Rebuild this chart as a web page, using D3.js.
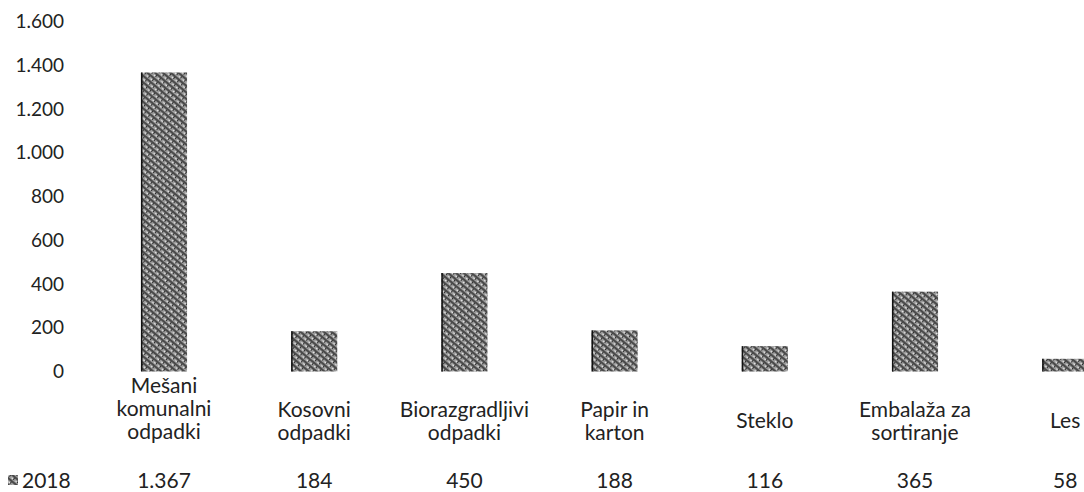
<!DOCTYPE html>
<html>
<head>
<meta charset="utf-8">
<script src="https://cdn.jsdelivr.net/npm/d3@7"></script>
<style>
  html, body { margin: 0; padding: 0; background: #fff; }
  svg { display: block; }
  text { font-family: Lato, "Open Sans", sans-serif; fill: #222; }
</style>
</head>
<body>
<svg id="chart" width="1084" height="492"></svg>
<script>
const categories = [
  ["Mešani", "komunalni", "odpadki"],
  ["Kosovni", "odpadki"],
  ["Biorazgradljivi", "odpadki"],
  ["Papir in", "karton"],
  ["Steklo"],
  ["Embalaža za", "sortiranje"],
  ["Les"]
];
const seriesName = "2018";
const values2018 = [1367, 184, 450, 188, 116, 365, 58];
const yTicks = [0, 200, 400, 600, 800, 1000, 1200, 1400, 1600];

const W = 1084, H = 492;
const svg = d3.select("#chart");
const fmt = d3.formatLocale({decimal: ",", thousands: ".", grouping: [3], currency: ["", "€"]}).format(",d");

const keys = categories.map((c, i) => "c" + i);
const x = d3.scaleBand().domain(keys).range([88.9, 88.9 + 150.2 * 7])
  .paddingInner(0.693).paddingOuter(0.3465);
const y = d3.scaleLinear().domain([0, 1600]).range([371.5, 21.5]);

// pattern resembling the scanned grey texture
const defs = svg.append("defs");
const pat = defs.append("pattern").attr("id", "tex").attr("patternUnits", "userSpaceOnUse")
  .attr("width", 5).attr("height", 5).attr("patternTransform", "rotate(40)");
pat.append("rect").attr("width", 5).attr("height", 5).attr("fill", "#9c9c9c");
pat.append("rect").attr("x", 0).attr("y", 0).attr("width", 5).attr("height", 2).attr("fill", "#4a4a4a");
pat.append("rect").attr("x", 1).attr("y", 3).attr("width", 2).attr("height", 1).attr("fill", "#e4e4e4");
pat.append("rect").attr("x", 3).attr("y", 2).attr("width", 1).attr("height", 2).attr("fill", "#2e2e2e");

// y axis
const yAxis = d3.axisLeft(y).tickValues(yTicks).tickSize(0).tickPadding(0).tickFormat(d => fmt(d));
const gy = svg.append("g").attr("transform", "translate(64,0)").call(yAxis);
gy.select(".domain").remove();
gy.selectAll("text").style("font-size", "19px").style("font-family", "Lato, sans-serif").attr("fill", "#222");

// bars
const bars = svg.append("g");
bars.selectAll("rect.bar").data(values2018).join("rect").attr("class", "bar")
  .attr("x", (d, i) => x(keys[i]))
  .attr("width", x.bandwidth())
  .attr("y", d => y(d))
  .attr("height", d => y(0) - y(d))
  .attr("fill", "url(#tex)");
bars.selectAll("line.edge").data(values2018).join("line").attr("class", "edge")
  .attr("x1", (d, i) => x(keys[i]) + 0.75).attr("x2", (d, i) => x(keys[i]) + 0.75)
  .attr("y1", d => y(d)).attr("y2", y(0))
  .attr("stroke", "#111").attr("stroke-width", 1.5);

// category labels
const lineH = 23;
const catG = svg.append("g").style("font-size", "21px");
categories.forEach((lines, i) => {
  const cx = x(keys[i]) + x.bandwidth() / 2;
  let first;
  if (lines.length === 3) first = 393;
  else if (lines.length === 2) first = 417;
  else first = 428;
  const t = catG.append("text").attr("text-anchor", "middle");
  lines.forEach((ln, j) => {
    t.append("tspan").attr("x", cx).attr("y", first + j * lineH).text(ln);
  });
});

// data table row
const rowY = 488;
const tbl = svg.append("g").style("font-size", "21px");
tbl.append("rect").attr("x", 8).attr("y", 475).attr("width", 10).attr("height", 10).attr("fill", "url(#tex)");
tbl.append("text").attr("x", 22).attr("y", rowY).text(seriesName);
tbl.selectAll("text.val").data(values2018).join("text").attr("class", "val")
  .attr("text-anchor", "middle")
  .attr("x", (d, i) => x(keys[i]) + x.bandwidth() / 2)
  .attr("y", rowY)
  .text(d => fmt(d));
</script>
</body>
</html>
